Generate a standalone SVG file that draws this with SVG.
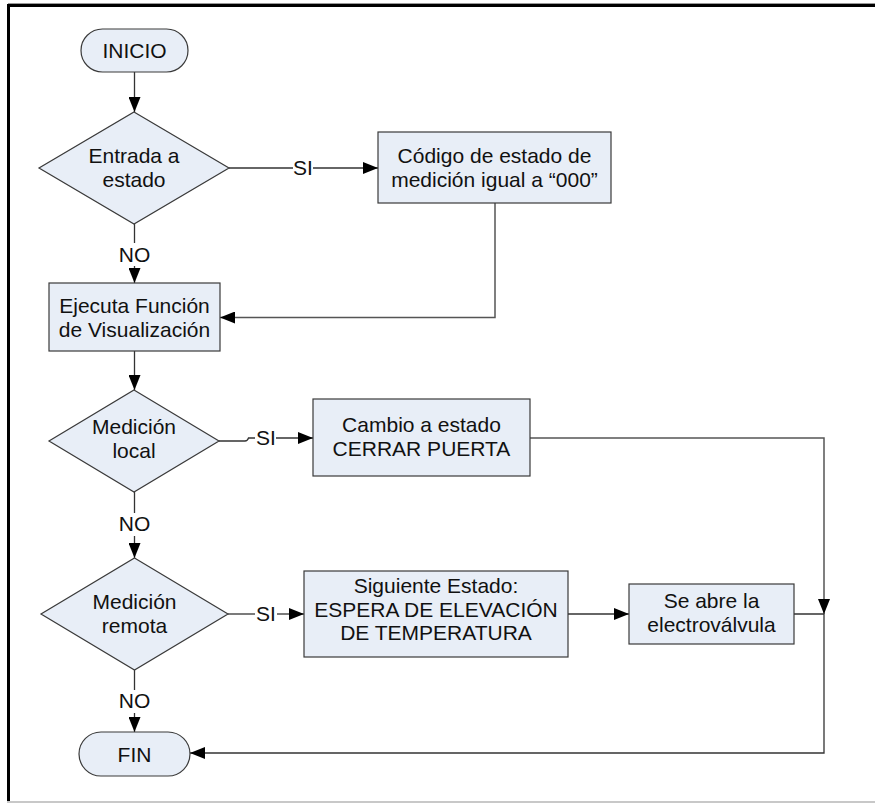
<svg xmlns="http://www.w3.org/2000/svg" width="875" height="803" viewBox="0 0 875 803">
<style>
.s{fill:#E8EEF7;stroke:#3a3a3a;stroke-width:1.2}
.t{font-family:"Liberation Sans",Arial,sans-serif;font-size:21px;fill:#111;text-anchor:middle}
.c{fill:none;stroke:#333;stroke-width:1.3}
.g{fill:none;stroke:#555;stroke-width:1.5}
</style>
<defs>
<marker id="ar" viewBox="0 0 15 12" refX="15" refY="6" markerWidth="15" markerHeight="12" markerUnits="userSpaceOnUse" orient="auto">
<path d="M0,0 L15,6 L0,12 z" fill="#000"/>
</marker>
</defs>
<rect width="875" height="803" fill="#fff"/>
<g id="frame">
<line x1="8" y1="3.5" x2="875" y2="3.5" stroke="#999" stroke-width="1"/>
<line x1="7" y1="5.5" x2="875" y2="5.5" stroke="#000" stroke-width="3"/>
<line x1="8.5" y1="4" x2="8.5" y2="801" stroke="#000" stroke-width="3"/>
<line x1="7" y1="802" x2="875" y2="802" stroke="#c8c8c8" stroke-width="2"/>
</g>
<g id="connectors">
<path class="c" d="M134.5 72 V112" marker-end="url(#ar)"/>
<path class="c" d="M229 168 H293"/>
<path class="c" d="M313 168 H378" marker-end="url(#ar)"/>
<path class="c" d="M134.5 224 V243"/>
<path class="c" d="M134.5 266 V283" marker-end="url(#ar)"/>
<path class="g" d="M495 203 V317.5 H220" marker-end="url(#ar)"/>
<path class="c" d="M134.5 351 V390" marker-end="url(#ar)"/>
<path class="c" d="M219 441 H245 Q247.5 441 248.5 438 H255"/>
<path class="c" d="M276 438 H313" marker-end="url(#ar)"/>
<path class="c" d="M134.5 492 V513"/>
<path class="c" d="M134.5 536 V558" marker-end="url(#ar)"/>
<path class="g" d="M530 438 H824 V614" marker-end="url(#ar)"/>
<path class="c" d="M228 614 H255"/>
<path class="c" d="M277 614 H304" marker-end="url(#ar)"/>
<path class="c" d="M134.5 670 V690"/>
<path class="c" d="M134.5 713 V732" marker-end="url(#ar)"/>
<path class="c" d="M568 614 H629" marker-end="url(#ar)"/>
<path class="c" d="M794 614 H824 V753 H190" marker-end="url(#ar)"/>
<text class="t" x="303" y="175">SI</text>
<text class="t" x="134.5" y="262">NO</text>
<text class="t" x="266" y="445">SI</text>
<text class="t" x="134.5" y="531">NO</text>
<text class="t" x="266" y="621">SI</text>
<text class="t" x="134.5" y="708">NO</text>
</g>
<g id="inicio">
<rect class="s" x="81" y="29" width="107" height="43" rx="21.5"/>
<text class="t" x="134.5" y="58">INICIO</text>
</g>
<g id="entrada">
<polygon class="s" points="134,112 229,168 134,224 39,168"/>
<text class="t" x="134" y="163">Entrada a</text>
<text class="t" x="134" y="186.5">estado</text>
</g>
<g id="codigo">
<rect class="s" x="378" y="132" width="233" height="71"/>
<text class="t" x="494.5" y="163">Código de estado de</text>
<text class="t" x="494.5" y="187">medición igual a “000”</text>
</g>
<g id="ejecuta">
<rect class="s" x="49" y="283" width="171" height="68"/>
<text class="t" x="134.5" y="313">Ejecuta Función</text>
<text class="t" x="134.5" y="337">de Visualización</text>
</g>
<g id="medicion-local">
<polygon class="s" points="134,390 219,441 134,492 49,441"/>
<text class="t" x="134" y="434">Medición</text>
<text class="t" x="134" y="458">local</text>
</g>
<g id="cambio">
<rect class="s" x="313" y="399" width="217" height="77"/>
<text class="t" x="421.5" y="432">Cambio a estado</text>
<text class="t" x="421.5" y="456">CERRAR PUERTA</text>
</g>
<g id="medicion-remota">
<polygon class="s" points="134.5,558 228,614 134.5,670 41,614"/>
<text class="t" x="134.5" y="608.5">Medición</text>
<text class="t" x="134.5" y="632.5">remota</text>
</g>
<g id="siguiente">
<rect class="s" x="304" y="571" width="264" height="86"/>
<text class="t" x="436" y="593">Siguiente Estado:</text>
<text class="t" x="436" y="617">ESPERA DE ELEVACIÓN</text>
<text class="t" x="436" y="640">DE TEMPERATURA</text>
</g>
<g id="se-abre">
<rect class="s" x="629" y="584" width="165" height="60"/>
<text class="t" x="711.5" y="608">Se abre la</text>
<text class="t" x="711.5" y="632">electroválvula</text>
</g>
<g id="fin">
<rect class="s" x="79" y="732" width="111" height="44" rx="22"/>
<text class="t" x="134.5" y="762">FIN</text>
</g>
</svg>
